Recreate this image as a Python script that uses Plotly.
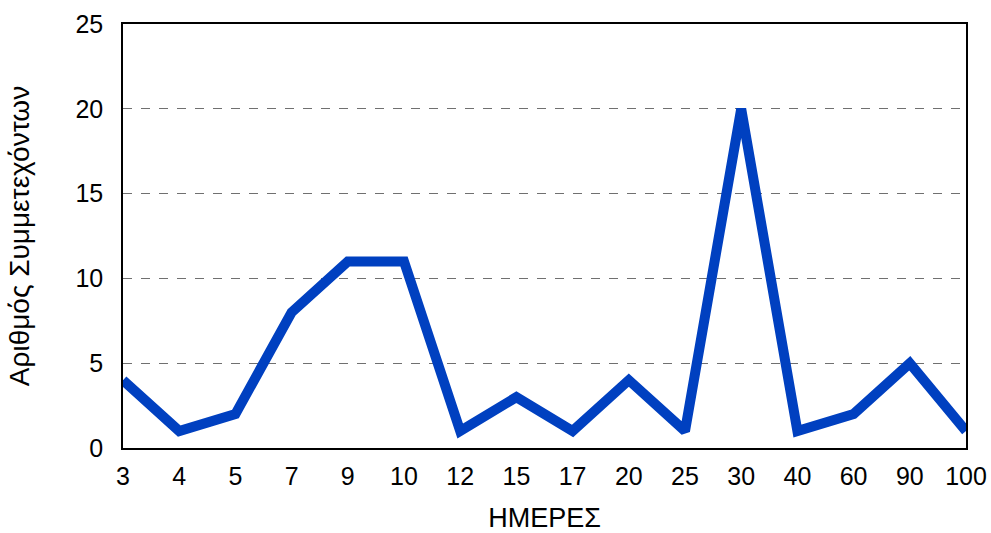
import plotly.graph_objects as go

days = ["3", "4", "5", "7", "9", "10", "12", "15", "17", "20", "25", "30", "40", "60", "90", "100"]
participants = [4, 1, 2, 8, 11, 11, 1, 3, 1, 4, 1, 20, 1, 2, 5, 1]
y_ticks = [0, 5, 10, 15, 20, 25]

fig = go.Figure()
fig.add_trace(go.Scatter(
    x=days, y=participants, mode="lines",
    line=dict(color="#0040C0", width=10, shape="linear"),
    cliponaxis=False,
))

font = dict(family="Liberation Sans, Arial, sans-serif", color="#000000")

fig.update_layout(
    width=991, height=533,
    margin=dict(l=123, r=25, t=24, b=85),
    paper_bgcolor="white", plot_bgcolor="white",
    showlegend=False,
    font=font,
)
fig.update_xaxes(
    type="category", range=[0, 15], automargin=False,
    showgrid=False, zeroline=False,
    showline=True, linecolor="#000000", linewidth=1.5, mirror=True,
    ticks="", tickfont=dict(size=25, **font), ticklabelstandoff=5,
    title=dict(text="ΗΜΕΡΕΣ", font=dict(size=27, **font), standoff=20),
)
fig.update_yaxes(
    range=[0, 25], tickvals=y_ticks, automargin=False,
    showgrid=True, gridcolor="#707070", griddash="dash", gridwidth=1,
    zeroline=False,
    showline=True, linecolor="#000000", linewidth=1.5, mirror=True,
    ticks="", tickfont=dict(size=25, **font), ticklabelstandoff=13,
    title=dict(text="Αριθμός Συμμετεχόντων", font=dict(size=28, **font), standoff=38),
)

fig.write_html("out.html")
